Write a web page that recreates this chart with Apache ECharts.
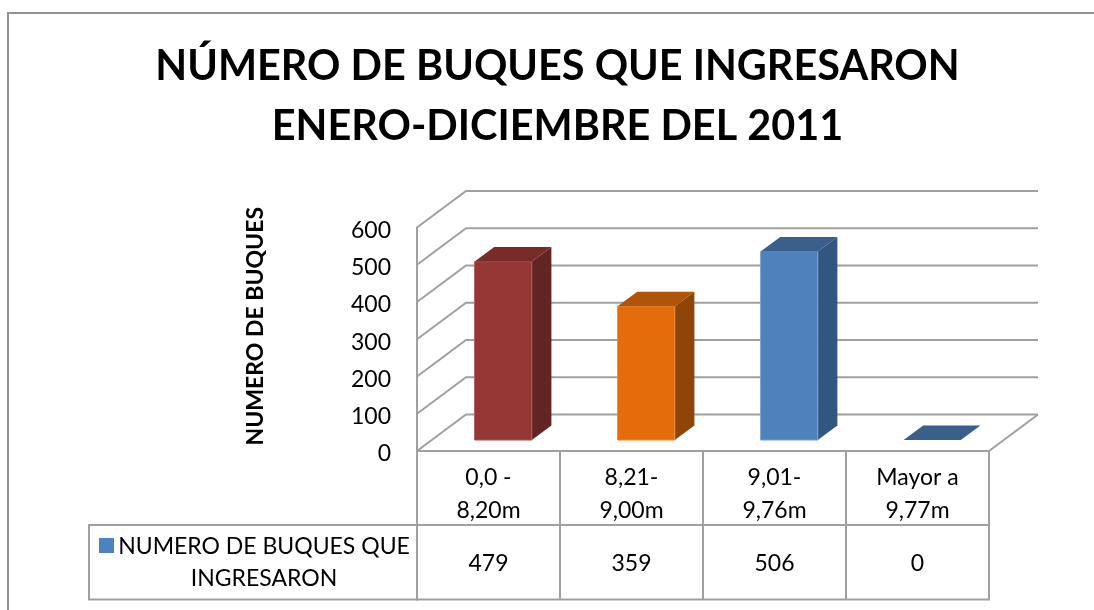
<!DOCTYPE html>
<html>
<head>
<meta charset="utf-8">
<style>
  html, body { margin: 0; padding: 0; background: #fff; }
  #chart { width: 1094px; height: 610px; }
</style>
<script src="https://cdn.jsdelivr.net/npm/echarts@6/dist/echarts.min.js"></script>
</head>
<body>
<div id="chart"></div>
<script>
const titleText = 'NÚMERO DE BUQUES QUE INGRESARON\nENERO-DICIEMBRE DEL 2011'
const yAxisTitle = 'NUMERO DE BUQUES'
const seriesName = 'NUMERO DE BUQUES QUE\nINGRESARON'
const categories = ['0,0 -\n8,20m', '8,21-\n9,00m', '9,01-\n9,76m', 'Mayor a\n9,77m']
const values = [479, 359, 506, 0]
const yTicks = [0, 100, 200, 300, 400, 500, 600]
const frontColors = ['#953735', '#E46C0A', '#4F81BD', '#4F81BD']
const topColors = ['#772C2A', '#B05508', '#3A5F8B', '#3A5F8B']
const sideColors = ['#632523', '#8F4507', '#335680', '#335680']
const edgeColors = ['#A85C5A', '#EA8A3C', '#7FA3CE', '#7FA3CE']

const gridColor = '#a0a0a0'
const tableColor = '#a0a0a0'
const font = 'Lato'

// profundidad de la pared del fondo, en pixeles
const depthX = 49
const depthY = 36.5
// la barra ocupa del 30% al 70% de la profundidad
const barNear = 0.3
const barFar = 0.7
const barRatio = 0.4

const chart = echarts.init(document.getElementById('chart'))

const renderWall = (params, api) => {
  const band = api.size([1, 0])[0]
  const p = api.coord([0, api.value(1)])
  const left = p[0] - band / 2
  const right = left + band * categories.length
  const y = p[1]
  return {
    type: 'polyline',
    shape: { points: [[left, y], [left + depthX, y - depthY], [right + depthX, y - depthY]] },
    style: { stroke: gridColor, lineWidth: 2, fill: null }
  }
}

const renderFloorEdge = (params, api) => {
  const band = api.size([1, 0])[0]
  const p = api.coord([categories.length - 1, 0])
  const right = p[0] + band / 2
  return {
    type: 'line',
    shape: { x1: right, y1: p[1], x2: right + depthX, y2: p[1] - depthY },
    style: { stroke: gridColor, lineWidth: 2 }
  }
}

const renderBar = (params, api) => {
  const i = api.value(0)
  const band = api.size([1, 0])[0]
  const w = band * barRatio
  const base = api.coord([i, 0])
  const top = api.coord([i, api.value(1)])
  const x0 = base[0] - w / 2 + depthX * barNear
  const x1 = x0 + w
  const yb = base[1] - depthY * barNear
  const yt = top[1] - depthY * barNear
  const dx = depthX * (barFar - barNear)
  const dy = depthY * (barFar - barNear)
  const children = []
  if (yb - yt > 0) {
    children.push({
      type: 'polygon',
      shape: { points: [[x1, yb], [x1 + dx, yb - dy], [x1 + dx, yt - dy], [x1, yt]] },
      style: { fill: sideColors[i] }
    })
    children.push({
      type: 'rect',
      shape: { x: x0, y: yt, width: w, height: yb - yt },
      style: { fill: frontColors[i], stroke: edgeColors[i], lineWidth: 1 }
    })
  }
  children.push({
    type: 'polygon',
    shape: { points: [[x0, yt], [x0 + dx, yt - dy], [x1 + dx, yt - dy], [x1, yt]] },
    style: { fill: topColors[i] }
  })
  return { type: 'group', children }
}

const option = {
  animation: false,
  backgroundColor: '#fff',
  title: {
    text: titleText,
    left: 552.5,
    top: 32,
    textAlign: 'center',
    textStyle: {
      fontFamily: font,
      fontSize: 41.4,
      fontWeight: 'bold',
      color: '#000',
      lineHeight: 60
    }
  },
  grid: [
    { left: 417, top: 227.5, width: 572, height: 223.5 },
    {
      left: 417, top: 525, width: 572, height: 74.5,
      show: true, borderColor: tableColor, borderWidth: 2, backgroundColor: 'transparent'
    }
  ],
  xAxis: [
    {
      type: 'category',
      data: categories,
      axisLine: { lineStyle: { color: gridColor, width: 2 } },
      axisTick: { show: true, length: 74, lineStyle: { color: tableColor, width: 2 } },
      axisLabel: {
        fontFamily: font, fontSize: 23, color: '#000', margin: 10, lineHeight: 33,
        interval: 0
      }
    },
    {
      type: 'category',
      gridIndex: 1,
      data: values.map(String),
      axisLine: { show: false },
      axisTick: { show: false },
      splitLine: { show: true, lineStyle: { color: tableColor, width: 2 } },
      axisLabel: {
        inside: true, fontFamily: font, fontSize: 23, color: '#000',
        margin: 36, verticalAlign: 'middle', interval: 0
      }
    }
  ],
  yAxis: [
    {
      type: 'value',
      min: 0,
      max: 600,
      interval: 100,
      name: yAxisTitle,
      nameLocation: 'middle',
      nameRotate: 90,
      nameGap: 150,
      nameTextStyle: {
        fontFamily: font, fontSize: 23, fontWeight: 'bold', color: '#000',
        padding: [0, 0, 0, 26]
      },
      axisLine: { show: true, lineStyle: { color: gridColor, width: 2 } },
      axisTick: { show: false },
      splitLine: { show: false },
      axisLabel: {
        fontFamily: font, fontSize: 23, color: '#000', margin: 26,
        verticalAlign: 'top', lineHeight: 6
      }
    },
    {
      type: 'value',
      gridIndex: 1,
      show: false,
      min: 0,
      max: 1
    }
  ],
  series: [
    {
      type: 'custom',
      silent: true,
      renderItem: renderWall,
      encode: { x: 0, y: 1 },
      data: yTicks.map(v => [0, v]),
      z: 1
    },
    {
      type: 'custom',
      silent: true,
      renderItem: renderFloorEdge,
      encode: { x: 0, y: 1 },
      data: [[0, 0]],
      z: 1
    },
    {
      type: 'custom',
      name: seriesName,
      renderItem: renderBar,
      encode: { x: 0, y: 1 },
      data: values.map((v, i) => [i, v]),
      z: 2
    }
  ],
  graphic: [
    {
      type: 'polyline',
      silent: true,
      shape: { points: [[8, 610], [8, 13], [1094, 13]] },
      style: { stroke: '#929292', lineWidth: 2, fill: null }
    },
    {
      type: 'rect',
      silent: true,
      shape: { x: 89, y: 525, width: 328, height: 74.5 },
      style: { stroke: tableColor, lineWidth: 2, fill: 'transparent' }
    },
    {
      type: 'rect',
      silent: true,
      shape: { x: 99, y: 538, width: 15, height: 15 },
      style: { fill: frontColors[2] }
    },
    {
      type: 'text',
      silent: true,
      x: 264,
      y: 563,
      style: {
        text: seriesName,
        fontFamily: font,
        fontSize: 23,
        lineHeight: 32,
        fill: '#000',
        align: 'center',
        verticalAlign: 'middle'
      }
    }
  ]
}

chart.setOption(option)
</script>
</body>
</html>
